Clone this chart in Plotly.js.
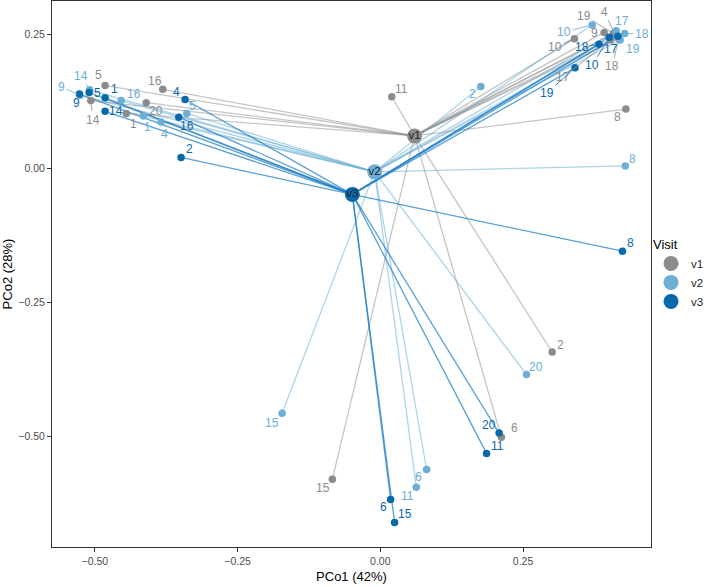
<!DOCTYPE html>
<html>
<head>
<meta charset="utf-8">
<script src="https://cdn.plot.ly/plotly-3.0.1.min.js"></script>
<style>html,body{margin:0;padding:0;background:#fff;}#chart{width:709px;height:587px;}</style>
</head>
<body>
<div id="chart"></div>
<script>
// ---- data ----
const visits = ['v1', 'v2', 'v3'];
const subjects = [1, 2, 4, 5, 6, 8, 9, 10, 11, 14, 15, 16, 17, 18, 19, 20];

const v1X = [-0.445, 0.301, 0.410, -0.482, 0.212, 0.430, 0.392, 0.340, 0.020, -0.507, -0.084, -0.381, 0.403, 0.417, 0.408, -0.410];
const v1Y = [0.102, -0.343, 0.251, 0.154, -0.502, 0.110, 0.253, 0.241, 0.133, 0.126, -0.580, 0.147, 0.239, 0.242, 0.251, 0.122];

const v2X = [-0.415, 0.176, -0.384, -0.339, 0.081, 0.429, -0.526, 0.371, 0.063, -0.509, -0.172, -0.454, 0.413, 0.428, 0.420, 0.256];
const v2Y = [0.097, 0.152, 0.086, 0.102, -0.562, 0.004, 0.136, 0.267, -0.595, 0.146, -0.457, 0.126, 0.256, 0.251, 0.239, -0.385];

const v3X = [-0.482, -0.349, -0.342, -0.510, 0.018, 0.424, -0.527, 0.401, 0.186, -0.482, 0.025, -0.353, 0.416, 0.383, 0.341, 0.208];
const v3Y = [0.131, 0.020, 0.128, 0.141, -0.618, -0.155, 0.138, 0.244, -0.532, 0.106, -0.661, 0.095, 0.246, 0.231, 0.187, -0.494];

const centroidX = [0.060, -0.010, -0.049];
const centroidY = [0.060, -0.007, -0.049];

const xTicks = [-0.50, -0.25, 0.00, 0.25];
const yTicks = [-0.50, -0.25, 0.00, 0.25];

// ---- styling (label placement, pixel offsets; not data) ----
const pointColor = {v1: '#8c8c8c', v2: '#6baed6', v3: '#0868ac'};
const lineColor = {v1: 'rgba(140,140,140,0.5)', v2: 'rgba(107,174,214,0.55)', v3: 'rgba(33,128,200,0.75)'};
const labelNudge = {
  v1: [[7,11],[8,-7],[-10,-22],[-7,-11],[13,-9],[-8,8],[-10,1],[-19,8],[10,-8],[2,19],[-9,9],[-8,-8],[-47,37],[-6,28],[-29,-18],[10,8]],
  v2: [[4,11],[-8,7],[3,12],[6,-7],[-8,7],[7,-7],[-18,-8],[-28,7],[-9,9],[-9,-14],[-10,10],[13,-7],[6,-10],[17,0],[13,9],[9,-8]],
  v3: [[9,-9],[8,-8],[-9,-7],[8,1],[-7,7],[8,-8],[-3,9],[-17,28],[11,-7],[11,0],[10,-9],[8,9],[-7,13],[-17,3],[-28,25],[-10,-8]]
};

const series = {v1: [v1X, v1Y], v2: [v2X, v2Y], v3: [v3X, v3Y]};
const FONT = 'Liberation Sans, Arial, sans-serif';

const traces = [];
const annotations = [];

// segments
visits.forEach((v, i) => {
  const [xs, ys] = series[v];
  const lx = [], ly = [];
  xs.forEach((x, j) => { lx.push(centroidX[i], x, null); ly.push(centroidY[i], ys[j], null); });
  traces.push({x: lx, y: ly, mode: 'lines', type: 'scatter', showlegend: false, hoverinfo: 'skip',
    line: {color: lineColor[v], width: 1.3}});
});
// points
visits.forEach((v) => {
  const [xs, ys] = series[v];
  traces.push({x: xs, y: ys, mode: 'markers', type: 'scatter', showlegend: false,
    marker: {color: pointColor[v], size: 7.5}});
});
// labels
visits.forEach((v) => {
  const [xs, ys] = series[v];
  xs.forEach((x, j) => {
    const [dx, dy] = labelNudge[v][j];
    const far = Math.hypot(dx, dy) > 16;
    const a = {x: x, y: ys[j], xref: 'x', yref: 'y', text: String(subjects[j]),
      font: {family: FONT, size: 12, color: pointColor[v]}};
    if (far) {
      Object.assign(a, {showarrow: true, ax: dx, ay: dy, arrowhead: 0, arrowwidth: 0.8,
        arrowcolor: pointColor[v], standoff: 3});
    } else {
      Object.assign(a, {showarrow: false, xshift: dx, yshift: -dy});
    }
    annotations.push(a);
  });
});
// centroids (also the legend)
visits.forEach((v, i) => {
  traces.push({x: [centroidX[i]], y: [centroidY[i]], mode: 'markers+text', type: 'scatter',
    name: v, text: [v], textposition: 'middle center',
    textfont: {family: FONT, size: 11.5, color: '#222'},
    marker: {color: pointColor[v], size: 15}});
});

const axisCommon = {
  showgrid: false, zeroline: false, showline: true, mirror: true,
  linecolor: '#333', linewidth: 1, ticks: 'outside', ticklen: 4, tickcolor: '#333',
  tickfont: {family: FONT, size: 10.5, color: '#4d4d4d'}, tickformat: '.2f'
};

const layout = {
  width: 709, height: 587,
  margin: {l: 52, r: 0, t: 1, b: 40},
  paper_bgcolor: '#fff', plot_bgcolor: '#fff',
  font: {family: FONT},
  xaxis: Object.assign({}, axisCommon, {domain: [0, 0.9117], range: [-0.575, 0.474], tickvals: xTicks,
    title: {text: 'PCo1 (42%)', font: {family: FONT, size: 13, color: '#000'}, standoff: 6}}),
  yaxis: Object.assign({}, axisCommon, {range: [-0.7065, 0.3116], tickvals: yTicks,
    title: {text: 'PCo2 (28%)', font: {family: FONT, size: 13, color: '#000'}, standoff: 6}}),
  legend: {x: 1, xanchor: 'right', y: 0.5, yanchor: 'middle', bgcolor: 'rgba(0,0,0,0)',
    title: {text: 'Visit', font: {family: FONT, size: 13, color: '#000'}},
    font: {family: FONT, size: 11.5, color: '#222'}, tracegroupgap: 2, itemwidth: 30},
  annotations: annotations
};

Plotly.newPlot('chart', traces, layout, {displayModeBar: false, staticPlot: true});
</script>
</body>
</html>
